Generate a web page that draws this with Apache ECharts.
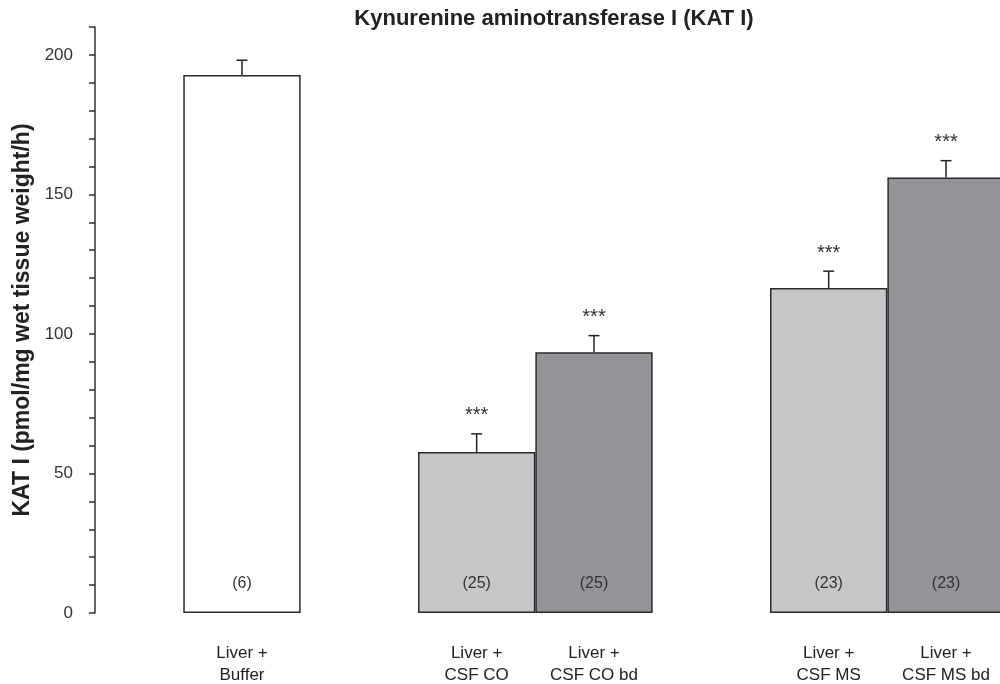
<!DOCTYPE html>
<html>
<head>
<meta charset="utf-8">
<script src="https://cdn.jsdelivr.net/npm/echarts@6/dist/echarts.min.js"></script>
<style>html,body{margin:0;padding:0;background:#fff}#c{width:1000px;height:684px}</style>
</head>
<body>
<div id="c"></div>
<script>
// ---- data ----
const categories = ['Liver +\nBuffer', '', 'Liver +\nCSF CO', 'Liver +\nCSF CO bd', '', 'Liver +\nCSF MS', 'Liver +\nCSF MS bd'];
const means = [192.8, null, 57.7, 93.4, null, 116.5, 156.1];
const sems = [5.3, null, 6.5, 6.0, null, 6.0, 6.0];
const counts = [6, null, 25, 25, null, 23, 23];
const stars = ['', '', '***', '***', '', '***', '***'];
const yTicks = [0, 50, 100, 150, 200];

// ---- chart ----
const FONT = '"Liberation Sans", Arial, sans-serif';
function barColor(name) {
  if (name.indexOf('Buffer') >= 0) return '#ffffff';
  if (name.indexOf('bd') >= 0) return '#939497';
  return '#c6c7c9';
}
const barData = means.map((v, i) => v == null ? '-' : {
  value: v,
  itemStyle: { color: barColor(categories[i]) }
});
const errData = means.map((v, i) => v == null ? null : [i, v, sems[i]]).filter(d => d);

const chart = echarts.init(document.getElementById('c'), null, { renderer: 'canvas' });
chart.setOption({
  animation: false,
  backgroundColor: '#fff',
  title: {
    text: 'Kynurenine aminotransferase I (KAT I)',
    left: 549, top: 3, textAlign: 'center',
    textStyle: { fontFamily: FONT, fontWeight: 'bold', fontSize: 22, color: '#222' }
  },
  grid: { left: 183.3, right: -4.7, top: 27, bottom: 71, outerBoundsMode: 'none', containLabel: false },
  xAxis: {
    type: 'category',
    data: categories,
    boundaryGap: true,
    axisLine: { show: false },
    axisTick: { show: false },
    axisLabel: {
      interval: 0, margin: 29, fontFamily: FONT, fontSize: 17, color: '#222', lineHeight: 22
    }
  },
  yAxis: {
    type: 'value',
    min: 0, max: 210, interval: 10,
    offset: 88.3,
    name: 'KAT I (pmol/mg wet tissue weight/h)',
    nameLocation: 'middle',
    nameGap: 59,
    nameTextStyle: { fontFamily: FONT, fontWeight: 'bold', fontSize: 23, color: '#222' },
    axisLine: { show: true, lineStyle: { color: '#333', width: 1.5 } },
    axisTick: { show: true, length: 6, lineStyle: { color: '#333', width: 1.5 } },
    splitLine: { show: false },
    axisLabel: {
      margin: 22, fontFamily: FONT, fontSize: 17, color: '#333',
      formatter: v => yTicks.indexOf(v) >= 0 ? String(v) : ''
    }
  },
  series: [
    {
      type: 'bar',
      data: barData,
      barCategoryGap: '0%',
      itemStyle: { borderColor: '#2a2a2a', borderWidth: 1.5 },
      label: {
        show: true, position: 'insideBottom', distance: 21,
        fontFamily: FONT, fontSize: 16, color: '#333',
        formatter: p => counts[p.dataIndex] == null ? '' : '(' + counts[p.dataIndex] + ')'
      },
      z: 2
    },
    {
      type: 'custom',
      data: errData,
      z: 3,
      renderItem: function (params, api) {
        const x = api.value(0), v = api.value(1), e = api.value(2);
        const p0 = api.coord([x, v]);
        const p1 = api.coord([x, v + e]);
        const cap = 5.5;
        const st = stars[x];
        const children = [
          { type: 'line', shape: { x1: p0[0], y1: p0[1], x2: p1[0], y2: p1[1] }, style: { stroke: '#222', lineWidth: 1.5 } },
          { type: 'line', shape: { x1: p1[0] - cap, y1: p1[1], x2: p1[0] + cap, y2: p1[1] }, style: { stroke: '#222', lineWidth: 1.5 } }
        ];
        if (st) {
          children.push({
            type: 'text',
            style: { text: st, x: p1[0], y: p1[1] - 18, align: 'center', verticalAlign: 'middle',
                     font: '20px ' + FONT, fill: '#333' }
          });
        }
        return { type: 'group', children: children };
      }
    }
  ]
});
</script>
</body>
</html>
